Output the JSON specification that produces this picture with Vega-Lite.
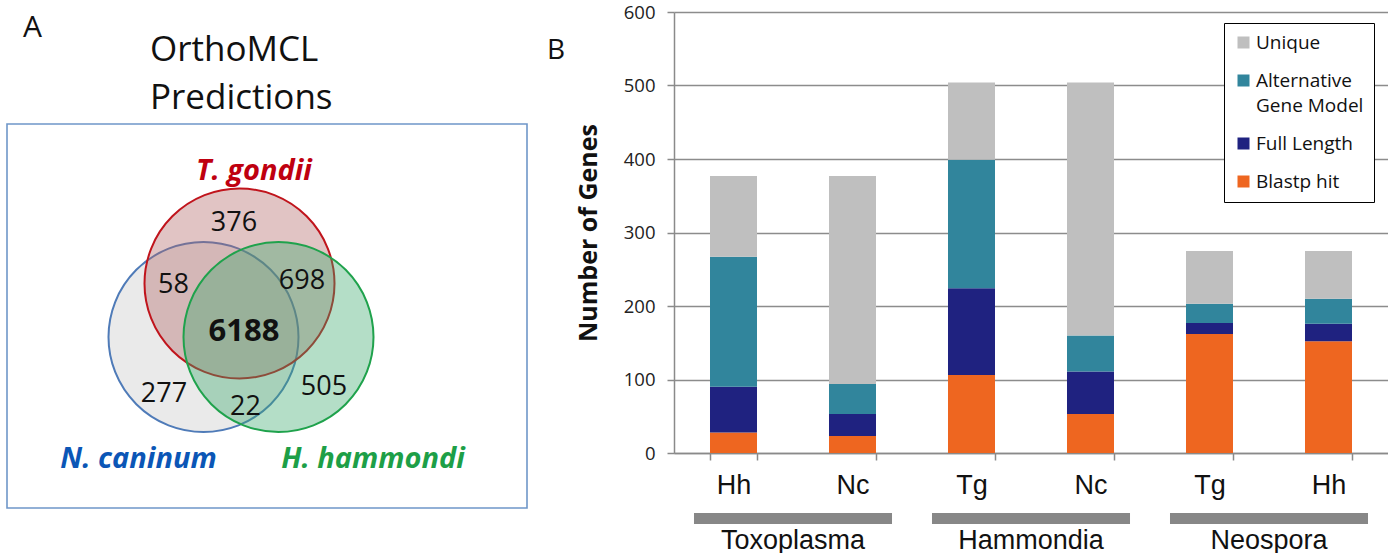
{
  "$schema": "https://vega.github.io/schema/vega-lite/v6.json",
  "background": "white",
  "padding": {"left": 0, "top": 3, "right": 0, "bottom": 0},
  "bounds": "flush",
  "spacing": 144,
  "config": {
    "view": {"stroke": null},
    "font": "Open Sans",
    "style": {"guide-label": {"lineHeight": 25}}
  },
  "resolve": {"scale": {"color": "independent"}, "legend": {"color": "independent"}},
  "hconcat": [
    {
      "width": 530,
      "height": 497,
      "layer": [
        {
          "data": {"values": [{"x": 7, "x2": 527, "y": 124, "y2": 508}]},
          "mark": {"type": "rect", "fill": "transparent", "stroke": "#6f97c9", "strokeWidth": 1.6},
          "encoding": {
            "x": {"field": "x", "type": "quantitative", "scale": {"domain": [0, 530], "nice": false, "zero": false}, "axis": null},
            "y": {"field": "y", "type": "quantitative", "scale": {"domain": [12, 509], "nice": false, "zero": false, "reverse": true}, "axis": null},
            "x2": {"field": "x2"}, "y2": {"field": "y2"}
          }
        },
        {
          "data": {"values": [
            {"species": "N. caninum", "x": 203.5, "y": 337},
            {"species": "T. gondii", "x": 239.5, "y": 283.5},
            {"species": "H. hammondi", "x": 278.5, "y": 337}
          ]},
          "mark": {"type": "point", "shape": "circle", "filled": true, "size": 36100, "opacity": 1, "fillOpacity": 0.38, "strokeOpacity": 1, "strokeWidth": 2},
          "encoding": {
            "x": {"field": "x", "type": "quantitative", "scale": {"domain": [0, 530], "nice": false, "zero": false}, "axis": null},
            "y": {"field": "y", "type": "quantitative", "scale": {"domain": [12, 509], "nice": false, "zero": false, "reverse": true}, "axis": null},
            "fill": {"field": "species", "type": "nominal", "scale": {"domain": ["N. caninum", "T. gondii", "H. hammondi"], "range": ["#c8c8c8", "#b06464", "#3aa86c"]}, "legend": null},
            "stroke": {"field": "species", "type": "nominal", "scale": {"domain": ["N. caninum", "T. gondii", "H. hammondi"], "range": ["#4f7bb8", "#c0141c", "#1fa24c"]}, "legend": null}
          }
        },
        {
          "data": {"values": [
            {"count": "376", "x": 234, "y": 223},
            {"count": "58", "x": 173.5, "y": 285},
            {"count": "698", "x": 302, "y": 280.5},
            {"count": "6188", "x": 244, "y": 331.5},
            {"count": "277", "x": 164, "y": 394},
            {"count": "22", "x": 245.5, "y": 406.5},
            {"count": "505", "x": 324, "y": 387}
          ]},
          "transform": [{"filter": "datum.count != '6188'"}],
          "mark": {"type": "text", "font": "Open Sans", "fontSize": 27, "color": "#111111"},
          "encoding": {
            "x": {"field": "x", "type": "quantitative", "scale": {"domain": [0, 530], "nice": false, "zero": false}, "axis": null},
            "y": {"field": "y", "type": "quantitative", "scale": {"domain": [12, 509], "nice": false, "zero": false, "reverse": true}, "axis": null},
            "text": {"field": "count", "type": "nominal"}
          }
        },
        {
          "data": {"values": [
            {"count": "6188", "x": 244, "y": 331.5}
          ]},
          "mark": {"type": "text", "font": "Open Sans", "fontSize": 31, "fontWeight": "bold", "color": "#111111"},
          "encoding": {
            "x": {"field": "x", "type": "quantitative", "scale": {"domain": [0, 530], "nice": false, "zero": false}, "axis": null},
            "y": {"field": "y", "type": "quantitative", "scale": {"domain": [12, 509], "nice": false, "zero": false, "reverse": true}, "axis": null},
            "text": {"field": "count", "type": "nominal"}
          }
        },
        {
          "data": {"values": [
            {"species": "T. gondii", "x": 254, "y": 170.5},
            {"species": "N. caninum", "x": 138.5, "y": 458.5},
            {"species": "H. hammondi", "x": 373, "y": 458.5}
          ]},
          "mark": {"type": "text", "font": "Open Sans", "fontSize": 29, "fontWeight": "bold", "fontStyle": "italic"},
          "encoding": {
            "x": {"field": "x", "type": "quantitative", "scale": {"domain": [0, 530], "nice": false, "zero": false}, "axis": null},
            "y": {"field": "y", "type": "quantitative", "scale": {"domain": [12, 509], "nice": false, "zero": false, "reverse": true}, "axis": null},
            "text": {"field": "species", "type": "nominal"},
            "color": {"field": "species", "type": "nominal", "scale": {"domain": ["N. caninum", "T. gondii", "H. hammondi"], "range": ["#0b56b6", "#bf0010", "#1d9f47"]}, "legend": null}
          }
        },
        {
          "data": {"values": [{}]},
          "mark": {"type": "text", "text": "A", "font": "Open Sans", "fontSize": 30, "align": "left", "color": "#111111"},
          "encoding": {
            "x": {"datum": 23, "type": "quantitative", "scale": {"domain": [0, 530], "nice": false, "zero": false}, "axis": null},
            "y": {"datum": 28, "type": "quantitative", "scale": {"domain": [12, 509], "nice": false, "zero": false, "reverse": true}, "axis": null}
          }
        },
        {
          "data": {"values": [{}]},
          "mark": {"type": "text", "text": "B", "font": "Open Sans", "fontSize": 28, "align": "left", "color": "#111111"},
          "encoding": {
            "x": {"datum": 547, "type": "quantitative", "scale": {"domain": [0, 530], "nice": false, "zero": false}, "axis": null},
            "y": {"datum": 50.5, "type": "quantitative", "scale": {"domain": [12, 509], "nice": false, "zero": false, "reverse": true}, "axis": null}
          }
        },
        {
          "data": {"values": [{}]},
          "mark": {"type": "text", "text": "OrthoMCL", "font": "Open Sans", "fontSize": 35, "align": "left", "color": "#111111"},
          "encoding": {
            "x": {"datum": 150, "type": "quantitative", "scale": {"domain": [0, 530], "nice": false, "zero": false}, "axis": null},
            "y": {"datum": 49.7, "type": "quantitative", "scale": {"domain": [12, 509], "nice": false, "zero": false, "reverse": true}, "axis": null}
          }
        },
        {
          "data": {"values": [{}]},
          "mark": {"type": "text", "text": "Predictions", "font": "Open Sans", "fontSize": 35, "align": "left", "color": "#111111"},
          "encoding": {
            "x": {"datum": 150, "type": "quantitative", "scale": {"domain": [0, 530], "nice": false, "zero": false}, "axis": null},
            "y": {"datum": 98.3, "type": "quantitative", "scale": {"domain": [12, 509], "nice": false, "zero": false, "reverse": true}, "axis": null}
          }
        }
      ]
    },
    {
      "bounds": "flush",
      "spacing": 60,
      "vconcat": [
        {
          "width": 714,
          "height": 441,
          "data": {"values": [
            {"bar": "Toxoplasma Hh", "category": "Blastp hit", "level": 1, "genes": 28},
            {"bar": "Toxoplasma Hh", "category": "Full Length", "level": 2, "genes": 62},
            {"bar": "Toxoplasma Hh", "category": "Alternative Gene Model", "level": 3, "genes": 177},
            {"bar": "Toxoplasma Hh", "category": "Unique", "level": 4, "genes": 110},
            {"bar": "Toxoplasma Nc", "category": "Blastp hit", "level": 1, "genes": 23},
            {"bar": "Toxoplasma Nc", "category": "Full Length", "level": 2, "genes": 30},
            {"bar": "Toxoplasma Nc", "category": "Alternative Gene Model", "level": 3, "genes": 41},
            {"bar": "Toxoplasma Nc", "category": "Unique", "level": 4, "genes": 283},
            {"bar": "Hammondia Tg", "category": "Blastp hit", "level": 1, "genes": 106},
            {"bar": "Hammondia Tg", "category": "Full Length", "level": 2, "genes": 118},
            {"bar": "Hammondia Tg", "category": "Alternative Gene Model", "level": 3, "genes": 175},
            {"bar": "Hammondia Tg", "category": "Unique", "level": 4, "genes": 105},
            {"bar": "Hammondia Nc", "category": "Blastp hit", "level": 1, "genes": 53},
            {"bar": "Hammondia Nc", "category": "Full Length", "level": 2, "genes": 58},
            {"bar": "Hammondia Nc", "category": "Alternative Gene Model", "level": 3, "genes": 49},
            {"bar": "Hammondia Nc", "category": "Unique", "level": 4, "genes": 344},
            {"bar": "Neospora Tg", "category": "Blastp hit", "level": 1, "genes": 162},
            {"bar": "Neospora Tg", "category": "Full Length", "level": 2, "genes": 15},
            {"bar": "Neospora Tg", "category": "Alternative Gene Model", "level": 3, "genes": 26},
            {"bar": "Neospora Tg", "category": "Unique", "level": 4, "genes": 72},
            {"bar": "Neospora Hh", "category": "Blastp hit", "level": 1, "genes": 152},
            {"bar": "Neospora Hh", "category": "Full Length", "level": 2, "genes": 24},
            {"bar": "Neospora Hh", "category": "Alternative Gene Model", "level": 3, "genes": 34},
            {"bar": "Neospora Hh", "category": "Unique", "level": 4, "genes": 65}
          ]},
          "mark": {"type": "bar"},
          "encoding": {
            "x": {
              "field": "bar", "type": "nominal", "sort": null,
              "scale": {"paddingInner": 0.605, "paddingOuter": 0.3025},
              "axis": {
                "title": null, "labelExpr": "split(datum.label, ' ')[1]", "labelAngle": 0,
                "labelFont": "Liberation Sans", "labelFontSize": 27, "labelColor": "#111111", "labelPadding": 12,
                "tickBand": "extent", "tickSize": 7, "tickColor": "#8a8a8a", "tickWidth": 1.5,
                "domainColor": "#8a8a8a", "domainWidth": 1.5, "grid": false
              }
            },
            "y": {
              "field": "genes", "type": "quantitative", "stack": "zero",
              "scale": {"domain": [0, 600], "nice": false},
              "axis": {
                "values": [0, 100, 200, 300, 400, 500, 600], "title": "Number of Genes",
                "titleFont": "Open Sans", "titleFontSize": 25, "titleFontWeight": "bold", "titleColor": "#111111", "titlePadding": 22,
                "labelFont": "Open Sans", "labelFontSize": 18.5, "labelColor": "#222222", "labelPadding": 12,
                "tickSize": 7, "tickColor": "#8a8a8a", "tickWidth": 1.5,
                "domainColor": "#8a8a8a", "domainWidth": 1.5,
                "grid": true, "gridColor": "#8c8c8c", "gridWidth": 1.3
              }
            },
            "color": {
              "field": "category", "type": "nominal",
              "scale": {"domain": ["Unique", "Alternative Gene Model", "Full Length", "Blastp hit"], "range": ["#bfbfbf", "#31859c", "#1f2280", "#ee6620"]},
              "legend": {
                "title": null, "orient": "none", "legendX": 550, "legendY": 11,
                "symbolType": "square", "symbolSize": 144, "symbolStrokeWidth": 0,
                "labelFont": "Open Sans", "labelFontSize": 19, "labelColor": "#111111", "labelOffset": 3, "labelLimit": 300,
                "labelExpr": "datum.label == 'Alternative Gene Model' ? ['Alternative', 'Gene Model'] : datum.label",
                "padding": 10, "rowPadding": 18, "strokeColor": "#000000", "fillColor": "white"
              }
            },
            "order": {"field": "level", "type": "quantitative"}
          }
        },
        {
          "width": 714,
          "height": 11,
          "data": {"values": [{"group": "Toxoplasma"}, {"group": "Hammondia"}, {"group": "Neospora"}]},
          "mark": {"type": "bar", "color": "#878787", "width": {"band": 0.832}},
          "encoding": {
            "x": {
              "field": "group", "type": "nominal", "sort": null,
              "scale": {"paddingInner": 0, "paddingOuter": 0},
              "axis": {
                "title": null, "labelAngle": 0, "labelFont": "Liberation Sans", "labelFontSize": 27, "labelColor": "#111111",
                "labelPadding": 3, "ticks": false, "tickSize": 0, "domain": false, "grid": false
              }
            }
          }
        }
      ]
    }
  ]
}
